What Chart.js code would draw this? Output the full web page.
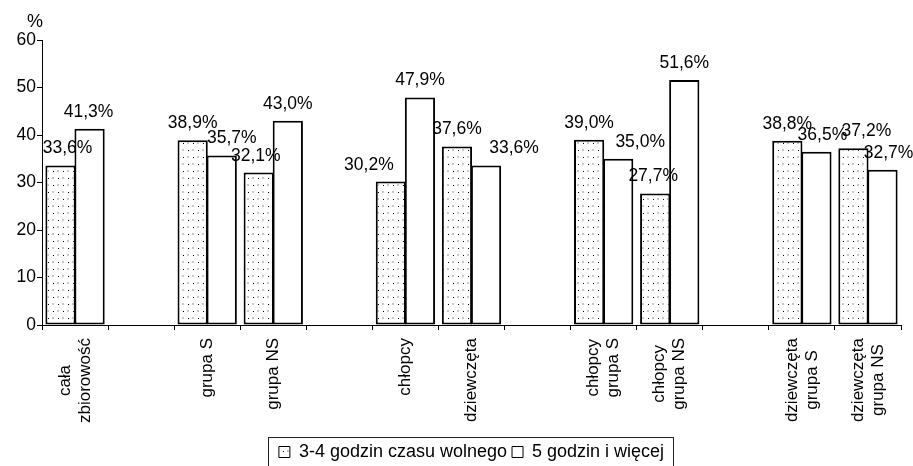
<!DOCTYPE html>
<html>
<head>
<meta charset="utf-8">
<script src="https://cdn.jsdelivr.net/npm/chart.js@4.4.0/dist/chart.umd.min.js"></script>
<style>
  body { margin: 0; background: #fff; }
  #wrap { width: 913px; height: 466px; }
</style>
</head>
<body>
<div id="wrap"><canvas id="freeTimeChart"></canvas></div>
<script>
const categories = [['cała', 'zbiorowość'], '', 'grupa S', 'grupa NS', '', 'chłopcy', 'dziewczęta', '',
  ['chłopcy', 'grupa S'], ['chłopcy', 'grupa NS'], '', ['dziewczęta', 'grupa S'], ['dziewczęta', 'grupa NS']];
const hours3to4 = [33.6, null, 38.9, 32.1, null, 30.2, 37.6, null, 39.0, 27.7, null, 38.8, 37.2];
const hours5plus = [41.3, null, 35.7, 43.0, null, 47.9, 33.6, null, 35.0, 51.6, null, 36.5, 32.7];
const seriesNames = ['3-4 godzin czasu wolnego', '5 godzin i więcej'];
const yTicks = [0, 10, 20, 30, 40, 50, 60];

const FONT = '"Liberation Sans", Arial, sans-serif';
Chart.defaults.font.family = FONT;
Chart.defaults.font.size = 17;
Chart.defaults.color = '#000';

// dotted fill like the old excel pattern
function dotPattern() {
  const c = document.createElement('canvas');
  c.width = 10; c.height = 14;
  const g = c.getContext('2d');
  g.fillStyle = '#fff';
  g.fillRect(0, 0, 10, 14);
  g.fillStyle = '#c8c8c8';
  g.fillRect(7, 2, 2, 2);
  g.fillRect(2, 9, 2, 2);
  g.fillStyle = '#000';
  g.fillRect(3, 3, 1, 1);
  g.fillRect(8, 10, 1, 1);
  return g.createPattern(c, 'repeat');
}

const valueLabels = {
  id: 'valueLabels',
  afterDatasetsDraw(chart, args, opts) {
    const ctx = chart.ctx;
    ctx.save();
    ctx.font = '17.5px ' + FONT;
    ctx.fillStyle = '#000';
    ctx.textAlign = 'center';
    ctx.textBaseline = 'alphabetic';
    chart.data.datasets.forEach((ds, di) => {
      chart.getDatasetMeta(di).data.forEach((bar, i) => {
        const v = ds.data[i];
        if (v == null) return;
        const shift = (opts.nudge[di] && opts.nudge[di][i]) || 0;
        ctx.fillText(v.toFixed(1).replace('.', ',') + '%', bar.x + shift, bar.y - 12);
      });
    });
    ctx.restore();
  }
};

const categoryLabels = {
  id: 'categoryLabels',
  afterDraw(chart) {
    const x = chart.scales.x;
    const ctx = chart.ctx;
    const lh = 20;
    ctx.save();
    ctx.font = '17px ' + FONT;
    ctx.fillStyle = '#000';
    ctx.textAlign = 'center';
    ctx.textBaseline = 'middle';
    chart.data.labels.forEach((label, i) => {
      const lines = [].concat(label).filter(s => s);
      if (!lines.length) return;
      const w = Math.max(...lines.map(s => ctx.measureText(s).width));
      ctx.save();
      ctx.translate(x.getPixelForValue(i), x.top + 13);
      ctx.rotate(-Math.PI / 2);
      lines.forEach((s, j) => ctx.fillText(s, -w / 2, (j - (lines.length - 1) / 2) * lh));
      ctx.restore();
    });
    // "%" unit above the y axis
    const y = chart.scales.y;
    ctx.font = '18px ' + FONT;
    ctx.textAlign = 'right';
    ctx.textBaseline = 'alphabetic';
    ctx.fillText('%', y.right + 1, chart.chartArea.top - 13);
    ctx.restore();
  }
};

const legendFrame = {
  id: 'legendFrame',
  afterDraw(chart) {
    const boxes = chart.legend && chart.legend.legendHitBoxes;
    if (!boxes || !boxes.length) return;
    const first = boxes[0], last = boxes[boxes.length - 1];
    const left = Math.round(first.left - 11) + 0.5;
    const right = Math.round(last.left + last.width + 9) + 0.5;
    const top = Math.round(first.top - 6) + 0.5;
    const ctx = chart.ctx;
    ctx.save();
    ctx.strokeStyle = '#222';
    ctx.lineWidth = 1;
    ctx.strokeRect(left, top, right - left, 60);
    ctx.restore();
  }
};

const freeTimeChart = new Chart(document.getElementById('freeTimeChart'), {
  type: 'bar',
  data: {
    labels: categories,
    datasets: [{
      label: seriesNames[0],
      data: hours3to4,
      backgroundColor: dotPattern(),
      borderColor: '#000',
      borderWidth: 2,
      borderSkipped: false
    }, {
      label: seriesNames[1],
      data: hours5plus,
      backgroundColor: '#fff',
      borderColor: '#000',
      borderWidth: 2,
      borderSkipped: false
    }]
  },
  options: {
    responsive: true,
    maintainAspectRatio: false,
    animation: false,
    categoryPercentage: 0.88,
    barPercentage: 1.04,
    layout: { padding: { top: 40, left: 16, right: 12, bottom: -5 } },
    scales: {
      x: {
        grid: { display: true, drawOnChartArea: false, color: '#000', tickLength: 5, offset: true },
        border: { color: '#000', width: 1 },
        ticks: { display: false },
        afterFit(scale) { scale.height = 113; }
      },
      y: {
        min: yTicks[0],
        max: yTicks[yTicks.length - 1],
        ticks: { stepSize: yTicks[1] - yTicks[0], padding: 1, color: '#000', font: { size: 17.5 } },
        grid: { display: true, drawOnChartArea: false, color: '#000', tickLength: 5 },
        border: { color: '#000', width: 1 },
        afterFit(scale) { scale.width = 26; }
      }
    },
    plugins: {
      tooltip: { enabled: false },
      legend: {
        position: 'bottom',
        fullSize: false,
        labels: {
          boxWidth: 11,
          boxHeight: 11,
          padding: 5,
          color: '#000',
          font: { size: 18 },
          generateLabels(chart) {
            const items = Chart.defaults.plugins.legend.labels.generateLabels(chart);
            items.forEach(it => { it.lineWidth = 1; });
            return items;
          }
        }
      },
      valueLabels: {
        nudge: [
          [7, 0, 0, -3, 0, -22, 0, 0, 0, -2, 0, 0, 13],
          [-1, 0, 10, 0, 0, 0, 28, 0, 22, 0, 0, 6, 6]
        ]
      }
    }
  },
  plugins: [valueLabels, categoryLabels, legendFrame]
});
</script>
</body>
</html>
